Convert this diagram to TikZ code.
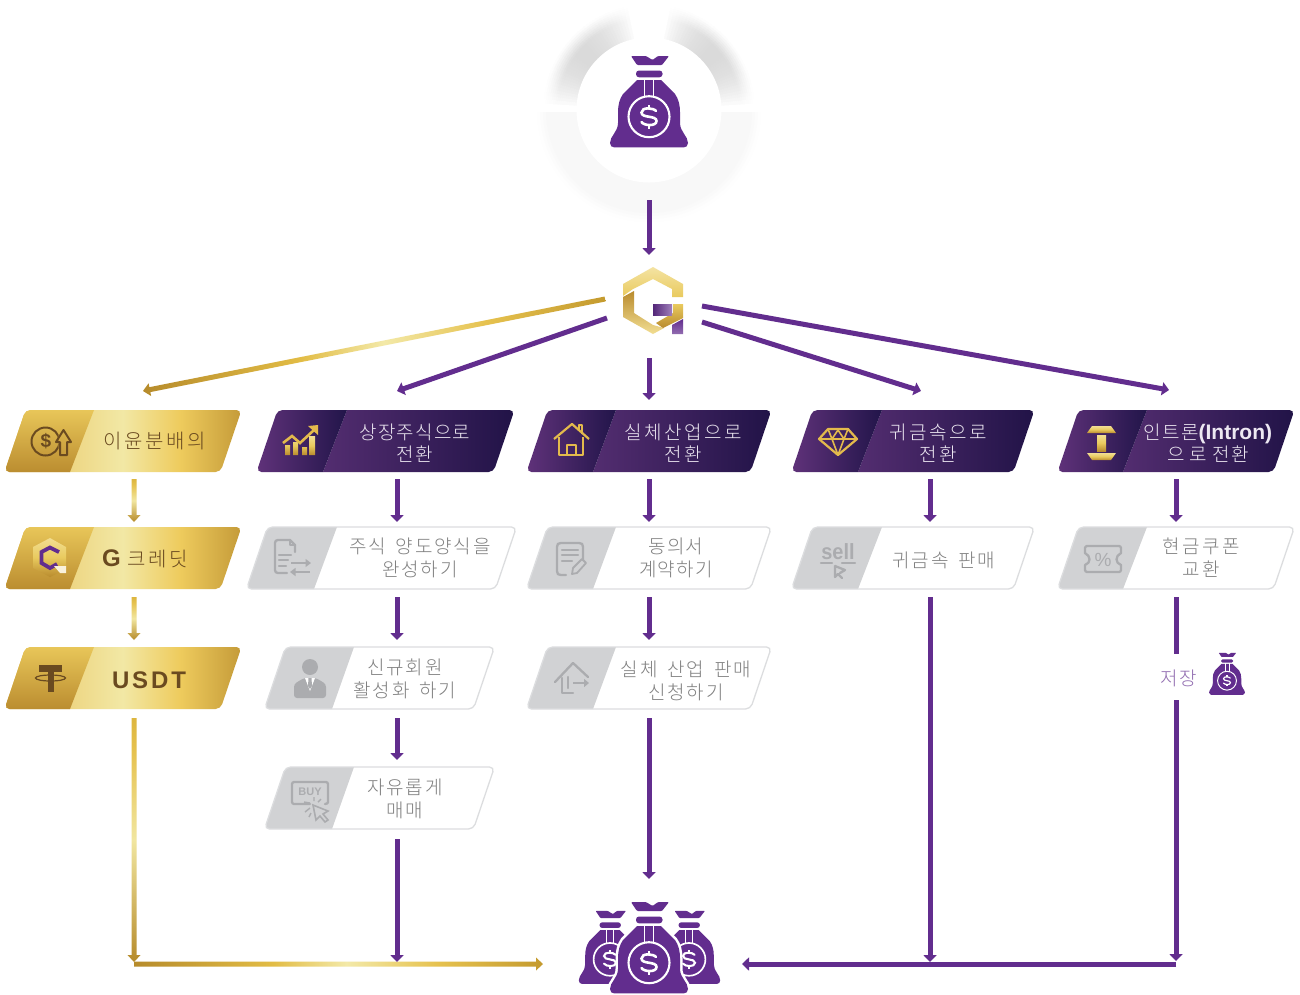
\documentclass[tikz,border=0pt]{standalone}
\usepackage{fontspec}
\usetikzlibrary{arrows.meta,calc}
\newfontfamily\krn{Noto Sans CJK KR Light}[LetterSpace=6]
\newfontfamily\krg{Noto Sans CJK KR Light}[LetterSpace=10,WordSpace=1.6]
\newfontfamily\krw{Noto Sans CJK KR Light}[LetterSpace=13]
\newfontfamily\lat{Liberation Sans}
\newfontfamily\latw{Liberation Sans}[LetterSpace=12]
\definecolor{bagc}{HTML}{622D8E}
\definecolor{flowc}{HTML}{622D8E}
\definecolor{greyic}{HTML}{ABACAF}
\definecolor{greytab}{HTML}{D1D2D4}
\definecolor{greyline}{HTML}{DCDDDF}
\definecolor{greytx}{HTML}{7F7F7F}
\definecolor{brown}{HTML}{6A4A20}
\definecolor{goldic}{HTML}{E3BA4C}
\definecolor{lilac}{HTML}{EDE8F2}
\definecolor{decogray}{HTML}{DADADA}
\definecolor{sA}{HTML}{DDB548}
\definecolor{sB}{HTML}{EED887}
\definecolor{sC}{HTML}{F2E8A5}
\definecolor{sD}{HTML}{EECB5D}
\definecolor{sE}{HTML}{C49A38}
\definecolor{pA}{HTML}{532D70}
\definecolor{pB}{HTML}{211347}
\definecolor{pC}{HTML}{60327A}
\definecolor{pD}{HTML}{22154A}
\definecolor{hA}{HTML}{B68B2B}
\definecolor{hB}{HTML}{E2BC45}
\definecolor{hC}{HTML}{F3E9A8}
\definecolor{hD}{HTML}{E6C24F}
\definecolor{hE}{HTML}{C49A2E}
\definecolor{vC}{HTML}{F1E6A0}
\definecolor{vE}{HTML}{DDB63F}
\definecolor{iA}{HTML}{B98B2E}
\definecolor{iB}{HTML}{E9CA5E}
\definecolor{iC}{HTML}{F2DE92}
\definecolor{tA}{HTML}{BB8D30}
\definecolor{tB}{HTML}{E8C659}
\pgfdeclarehorizontalshading{goldbar}{100bp}{color(0bp)=(sA);color(25bp)=(sA);color(40bp)=(sB);color(50bp)=(sC);color(62bp)=(sD);color(75bp)=(sE);color(100bp)=(sE)}
\pgfdeclarehorizontalshading{purplebar}{100bp}{color(0bp)=(pA);color(25bp)=(pA);color(75bp)=(pB);color(100bp)=(pB)}
\pgfdeclarehorizontalshading{purpletab}{100bp}{color(0bp)=(pC);color(25bp)=(pC);color(75bp)=(pD);color(100bp)=(pD)}
\pgfdeclarehorizontalshading{goldh}{100bp}{color(0bp)=(hA);color(25bp)=(hA);color(42bp)=(hB);color(51bp)=(hC);color(62bp)=(hD);color(75bp)=(hE);color(100bp)=(hE)}
\pgfdeclareverticalshading{goldv}{100bp}{color(0bp)=(hA);color(25bp)=(hA);color(50bp)=(vC);color(68bp)=(hD);color(75bp)=(vE);color(100bp)=(vE)}
\pgfdeclareverticalshading{goldicon}{100bp}{color(0bp)=(iA);color(25bp)=(iA);color(50bp)=(iB);color(75bp)=(iC);color(100bp)=(iC)}
\pgfdeclareverticalshading{goldtab}{100bp}{color(0bp)=(tA);color(25bp)=(tA);color(75bp)=(tB);color(100bp)=(tB)}
\tikzset{
  flow/.style={draw=flowc,line width=5pt,-{Triangle[width=13pt,length=7pt]}},
  flowplain/.style={draw=flowc,line width=5pt},
  lbg/.style={inner sep=0pt,align=center,text=brown,font=\krw\fontsize{20}{23}\selectfont},
  lbp/.style={inner sep=0pt,align=center,text=lilac,font=\krn\fontsize{19}{22.5}\selectfont},
  lbw/.style={inner sep=0pt,align=center,text=greytx,font=\krg\fontsize{19}{23}\selectfont},
  lbn/.style={inner sep=0pt,align=center,text=greytx,font=\krn\fontsize{19}{23}\selectfont},
  icg/.style={draw=greyic,line width=2.3pt,line join=round,line cap=round},
  icd/.style={draw=goldic,line width=2.2pt,line join=round},
  icb/.style={draw=brown,line width=2pt,line join=round}
}
% name, kind (body/tab painter), xl, xr, split top, split bottom, y top, connector x
\newcommand{\flowbox}[8]{%
  \coordinate (#1n) at (#8,#7);
  \coordinate (#1s) at (#8,{#7+62});
  \begin{scope}
    \clip[rounded corners=5pt] ({#3+19.5},#7) -- ({#4+1.5},#7) -- ({#4-19.5},{#7+62}) -- ({#3-1.5},{#7+62}) -- cycle;
    \csname paint#2\endcsname{#3-2}{#4+2}{#5}{#6}{#7}
  \end{scope}
  \csname edge#2\endcsname{#3}{#4}{#7}}
\newcommand{\paintgold}[5]{%
  \shade[shading=goldbar] ({#1},#5) rectangle ({#2},{#5+62});
  \shade[shading=goldtab] ({#1},{#5+62}) -- (#4,{#5+62}) -- (#3,#5) -- ({#1},#5) -- cycle;}
\newcommand{\edgegold}[3]{}
\newcommand{\paintpurple}[5]{%
  \shade[shading=purplebar] (#4,{#5+62}) -- ({#2},{#5+62}) -- ({#2},#5) -- (#3,#5) -- cycle;
  \shade[shading=purpletab] ({#1},{#5+62}) -- (#4,{#5+62}) -- (#3,#5) -- ({#1},#5) -- cycle;}
\newcommand{\edgepurple}[3]{}
\newcommand{\paintgrey}[5]{%
  \fill[white] ({#1},#5) rectangle ({#2},{#5+62});
  \fill[greytab] ({#1},{#5+62}) -- (#4,{#5+62}) -- (#3,#5) -- ({#1},#5) -- cycle;}
\newcommand{\edgegrey}[3]{%
  \draw[greyline,line width=1.3pt,rounded corners=5pt] ({#1+19.5},#3) -- ({#2+1.5},#3) -- ({#2-19.5},{#3+62}) -- ({#1-1.5},{#3+62}) -- cycle;}
% from, to, gap at start, gap at end, shading
\newcommand{\goldflow}[5]{%
  \coordinate (gfa) at ($(#1)!#3pt!(#2)$);
  \coordinate (gfb) at ($(#2)!#4pt!(#1)$);
  \coordinate (gfc) at ($(gfb)!7pt!(gfa)$);
  \shade[shading=#5]
    ($(gfa)!2.5pt!90:(gfb)$) -- ($(gfc)!2.5pt!-90:(gfa)$) -- ($(gfc)!6.5pt!-90:(gfa)$) -- (gfb)
    -- ($(gfc)!6.5pt!90:(gfa)$) -- ($(gfc)!2.5pt!90:(gfa)$) -- ($(gfa)!2.5pt!-90:(gfb)$) -- cycle;}
\newcommand{\bagbody}[1]{(-12,-20) -- (-26,-6) .. controls (-29.5,-1) and (-31,5) .. (-31,12) -- (-31,23) .. controls (-31,32) and (-39,36) .. (-39,43) .. controls (-39,46) and (-37,47.3) .. (-35,47.3) -- (35,47.3) .. controls (37,47.3) and (39,46) .. (39,43) .. controls (39,36) and (31,32) .. (31,23) -- (31,12) .. controls (31,5) and (29.5,-1) .. (26,-6) -- (12,-20) -- cycle}
\newcommand{\moneybag}[3]{%
  \begin{scope}[shift={(#1,#2)},x=#3pt,y=-#3pt]
    \draw[white,line width=#3*5pt,line join=round] \bagbody{};
    \fill[bagc] \bagbody{};
    \fill[bagc,rounded corners=#3*1pt] (-18,-44) -- (-3,-44) -- (3.5,-40) -- (9,-44) -- (20,-44) -- (13,-35) -- (-12,-35) -- cycle;
    \fill[bagc,rounded corners=#3*3pt] (-13,-29.5) rectangle (13.5,-22.7);
    \draw[white,line width=#3*1.9pt] (-4.5,-21) -- (-4.5,-3) (4.5,-21) -- (4.5,-3);
    \draw[white,line width=#3*2.1pt] (0,16.7) circle[radius=20.5];
    \draw[white,line width=#3*2.6pt,line cap=round] (7,11) .. controls (5,8) and (-7.5,6.5) .. (-7.5,12.5) .. controls (-7.5,18.5) and (7.5,15) .. (7.5,21) .. controls (7.5,26.5) and (-5,26) .. (-7.5,22);
    \draw[white,line width=#3*2.4pt] (0,5) -- (0,8.5) (0,25) -- (0,28.5);
  \end{scope}}
\begin{document}
\begin{tikzpicture}[x=1pt,y=-1pt,line cap=butt]
\useasboundingbox (0,0) rectangle (1300,994);
\fill[white] (0,0) rectangle (1300,994);
% ---- halo round the source bag
\begin{scope}
  \clip (530,112) rectangle (770,225);
  \foreach \r in {110,107,...,71}{
    \pgfmathsetmacro\v{\r>100?max(0,(111-\r)*2):20}
    \draw[decogray!\v!white,line width=4pt] (649,110) circle[radius=\r];
  }
\end{scope}
\foreach \r in {108,106,...,72}{
  \foreach \a in {102,104,...,174}{
    \pgfmathsetmacro\v{100*pow(sin(180*(\a-100)/76),0.8)*max(0,min(1,(105-\r)/14))}
    \draw[decogray!\v!white,line width=3pt]
      ({649+\r*cos(\a)},{110-\r*sin(\a)}) -- ({649+\r*cos(\a+2.4)},{110-\r*sin(\a+2.4)});
    \draw[decogray!\v!white,line width=3pt]
      ({649-\r*cos(\a)},{110-\r*sin(\a)}) -- ({649-\r*cos(\a+2.4)},{110-\r*sin(\a+2.4)});
  }
}
\fill[white] (649,110) circle[radius=72.5];
\moneybag{649}{100}{1}
\coordinate (srcS) at (649,200);
% ---- logo
\node[minimum size=60pt,inner sep=0pt] (logo) at (653,301) {};
\shade[top color=iC!85!white,bottom color=iB] (623,284) -- (653,267) -- (683,284) -- (683,297) -- (672,297) -- (672,289) -- (653,279) -- (633,289) -- (623,296) -- cycle;
\shade[top color=iA,bottom color=iC] (623,297) -- (634,291) -- (634,313) -- (653,325) -- (664,328) -- (653,334) -- (623,317) -- cycle;
\shade[top color=iB,bottom color=iA] (673,304) -- (683,304) -- (683,318) -- (663,328) -- (656,323) -- (673,313) -- cycle;
\shade[left color=bagc!85!black,right color=bagc!60!white] (653,304) rectangle (672,315);
\shade[top color=bagc,bottom color=bagc!70!white] (672,325) -- (683,319) -- (683,334) -- (672,334) -- cycle;
\coordinate (logoA) at (605,299);
\coordinate (logoB) at (607,318);
\coordinate (logoC) at (649,358);
\coordinate (logoD) at (702,322);
\coordinate (logoE) at (702,306);
\coordinate (logoN) at (649,255);
\coordinate (inA) at (143,391);
\coordinate (inB) at (397,391);
\coordinate (inC) at (649,400);
\coordinate (inD) at (921,391);
\coordinate (inE) at (1169,390);
% ---- boxes
\flowbox{a1}{gold}{6}{240}{94}{70}{410}{134}
\flowbox{a2}{gold}{6}{240}{94}{70}{527}{134}
\flowbox{a3}{gold}{6}{240}{94}{70}{647}{134}
\flowbox{b1}{purple}{258}{513}{347}{323}{410}{397}
\flowbox{b2}{grey}{248}{515}{337}{314}{527}{397}
\flowbox{b3}{grey}{266}{493}{354}{332}{647}{397}
\flowbox{b4}{grey}{266}{493}{354}{332}{767}{397}
\flowbox{c1}{purple}{528}{770}{616}{593}{410}{649}
\flowbox{c2}{grey}{528}{770}{616}{593}{527}{649}
\flowbox{c3}{grey}{528}{770}{616}{593}{647}{649}
\flowbox{d1}{purple}{793}{1033}{882}{858}{410}{930}
\flowbox{d2}{grey}{793}{1033}{882}{858}{527}{930}
\flowbox{e1}{purple}{1059}{1293}{1147}{1123}{410}{1176}
\flowbox{e2}{grey}{1059}{1293}{1147}{1123}{527}{1176}
% ---- labels
\node[lbg] (ta1) at (155,441) {이윤분배의};
\node[lbg,anchor=west] (ta2) at (102,559) {{\lat\bfseries\fontsize{24}{24}\selectfont G} 크레딧};
\node[lbg,font=\latw\bfseries\fontsize{24}{24}\selectfont] (ta3) at (149,680) {USDT};
\node[lbp] (tb1) at (415,443) {상장주식으로\\전환};
\node[lbw] (tb2) at (420,558) {주식 양도양식을\\완성하기};
\node[lbw] (tb3) at (405,679) {신규회원\\활성화 하기};
\node[lbw] (tb4) at (405,799) {자유롭게\\매매};
\node[lbp,font=\krw\fontsize{19}{22.5}\selectfont] (tc1) at (683,443) {실체산업으로\\전환};
\node[lbn] (tc2) at (676,558) {동의서\\계약하기};
\node[lbw] (tc3) at (686,681) {실체 산업 판매\\신청하기};
\node[lbp,font=\krw\fontsize{19}{22.5}\selectfont] (td1) at (938,443) {귀금속으로\\전환};
\node[lbw] (td2) at (944,560) {귀금속 판매};
\node[lbp] (te1) at (1208,443) {인트론{\lat\fontsize{21}{21}\selectfont\bfseries (Intron)}\\으 로 전환};
\node[lbw,font=\krw\fontsize{19}{23}\selectfont] (te2) at (1201,558) {현금쿠폰\\교환};
\node[lbn,text=bagc!70!white] (te3) at (1179,678) {저장};
% ---- icon a1: coin and arrow
\begin{scope}
  \clip (20,420) rectangle (58.5,462);
  \draw[icb] (45.5,441.5) circle[radius=14];
\end{scope}
\node[inner sep=0pt,text=brown,font=\lat\bfseries\fontsize{19}{19}\selectfont] (ia1) at (46,441) {\$};
\draw[icb,fill=none] (60,455) -- (60,442) -- (56,442) -- (63.5,430) -- (71,442) -- (67,442) -- (67,455) -- cycle;
% ---- icon a2: small hexagon
\shade[shading=goldicon] (50,538) -- (66,547) -- (66,569) -- (50,577) -- (33,568) -- (33,547) -- cycle;
\draw[bagc,line width=3.8pt] (59,552) -- (50,547.5) -- (41.5,552) -- (41.5,563) -- (50,568) -- (57,564);
\fill[white!80!goldic] (54,566) -- (66,566) -- (66,573) -- (60,573) -- cycle;
% ---- icon a3: tether
\fill[brown] (39,664.5) rectangle (62,671.5);
\fill[brown] (47.5,671) rectangle (54,692);
\draw[brown,line width=1.2pt] (50.5,678) ellipse[x radius=15,y radius=3];
% ---- icon b1: chart
\shade[shading=goldicon] (285,445) rectangle (290,455) (293,442) rectangle (298,455) (302,447) rectangle (307,455) (309,436) rectangle (315,455);
\draw[goldic,line width=2.6pt] (283,443) -- (292,436) -- (300,443) -- (314,430);
\fill[goldic] (308,426) -- (318,425) -- (318,435) -- cycle;
% ---- icon b2: document with arrows
\draw[icg] (295,552) -- (295,545) -- (290,540) -- (278,540) .. controls (276,540) and (275,541) .. (275,543) -- (275,570) .. controls (275,572) and (276,573) .. (278,573) -- (287,573);
\draw[icg] (290,540) -- (290,545) -- (295,545);
\draw[icg] (279,555) -- (291,555) (279,560) -- (288,560) (279,566) -- (286,566);
\draw[draw=greyic,line width=2.4pt,-{Triangle[width=8pt,length=5.5pt]}] (291,563) -- (311,563);
\draw[draw=greyic,line width=2.4pt,-{Triangle[width=8pt,length=5.5pt]}] (310,572) -- (290,572);
% ---- icon b3: person
\fill[greyic] (310,667) circle[radius=8];
\fill[greyic,rounded corners=3pt] (294,698) -- (294,684) -- (304,678) -- (316,678) -- (326,684) -- (326,698) -- cycle;
\fill[white] (305,678) -- (315,678) -- (310,691) -- cycle;
\fill[greyic] (308.5,678) -- (311.5,678) -- (312,686) -- (310,689) -- (308,686) -- cycle;
% ---- icon b4: buy
\draw[icg] (310,804) -- (294,804) .. controls (293,804) and (292,803) .. (292,802) -- (292,784) .. controls (292,783) and (293,782) .. (294,782) -- (326,782) .. controls (327,782) and (328,783) .. (328,784) -- (328,802) .. controls (328,803) and (327,804) .. (325,804);
\node[inner sep=0pt,text=greyic,font=\lat\bfseries\fontsize{11}{11}\selectfont] (ib4) at (310,792) {BUY};
\draw[greyic,line width=1.6pt] (313,805) -- (328,811) -- (323,814) -- (328,820) -- (325,822) -- (320,816) -- (316,820) -- cycle;
\draw[greyic,line width=1.4pt] (310,808) -- (305,812) (310,803) -- (304,802) (314,801) -- (314,797) (318,802) -- (321,799) (311,813) -- (309,817);
% ---- icon c1: house
\draw[icd] (554,439) -- (572,424) -- (589,439);
\draw[icd] (559,437) -- (559,455) -- (583,455) -- (583,437);
\draw[icd] (567,455) -- (567,445) -- (576,445) -- (576,455);
\draw[icd] (579,431) -- (579,425) -- (582,425) -- (582,434);
% ---- icon c2: pen and paper
\draw[icg] (566,575) -- (561,575) .. controls (558,575) and (557,574) .. (557,571) -- (557,547) .. controls (557,544) and (558,543) .. (561,543) -- (579,543) .. controls (582,543) and (583,544) .. (583,547) -- (583,560);
\draw[icg] (562,550) -- (578,550) (562,555) -- (578,555) (562,561) -- (572,561);
\draw[icg,line width=1.8pt] (572,574) -- (573,568) -- (582,559) -- (586,563) -- (577,573) -- cycle;
% ---- icon c3: house with arrow
\draw[icg] (555,682) -- (573,663) -- (588,677);
\draw[icg] (562,678) -- (562,693) -- (573,693);
\draw[icg] (568,677) -- (568,688);
\draw[draw=greyic,line width=2.2pt,-{Triangle[width=8pt,length=5pt]}] (573,683) -- (589,683);
% ---- icon d1: diamond
\draw[icd] (828,429) -- (848,429) -- (857,439) -- (838,455) -- (819,439) -- cycle;
\draw[icd,line width=1.6pt] (819,439) -- (857,439) (828,429) -- (832,439) -- (838,455) -- (844,439) -- (848,429) (832,439) -- (838,430) -- (844,439);
% ---- icon d2: sell
\node[inner sep=0pt,text=greyic,font=\lat\bfseries\fontsize{20}{20}\selectfont,yscale=1.1] (id2) at (838,552) {sell};
\draw[icg] (821,563) -- (832,563) (842,563) -- (855,563);
\draw[icg] (835,566) -- (835,577) -- (838,574) -- (842,578) (835,566) -- (845,570) -- (840,573);
% ---- icon e1: I-beam
\shade[shading=goldicon] (1087,433) -- (1092,426) -- (1111,426) -- (1116,433) -- cycle;
\shade[shading=goldicon] (1087,453) -- (1116,453) -- (1111,460) -- (1092,460) -- cycle;
\shade[shading=goldicon] (1097,435) rectangle (1106,451);
% ---- icon e2: coupon
\draw[icg] (1087,546) -- (1119,546) .. controls (1120,546) and (1121,547) .. (1121,548) -- (1121,553) .. controls (1115,556) and (1115,563) .. (1121,565) -- (1121,570) .. controls (1121,571) and (1120,572) .. (1119,572) -- (1087,572) .. controls (1086,572) and (1085,571) .. (1085,570) -- (1085,565) .. controls (1091,563) and (1091,556) .. (1085,553) -- (1085,548) .. controls (1085,547) and (1086,546) .. cycle;
\node[inner sep=0pt,text=greyic,font=\lat\fontsize{19}{19}\selectfont] (ie2) at (1103,560) {\%};
% ---- bags
\moneybag{1227}{673}{0.46}
\coordinate (storeN) at (1176,654);
\coordinate (storeS) at (1176,700);
\moneybag{610}{946}{0.8}
\moneybag{689}{946}{0.8}
\moneybag{649}{946}{1}
\coordinate (sinkW) at (543,964);
\coordinate (sinkE) at (742,964);
\coordinate (joinA) at (134,964);
\coordinate (joinB) at (397,962);
\coordinate (joinC) at (649,879);
\coordinate (joinD) at (930,962);
\coordinate (joinE) at (1176,964);
\coordinate (joinEa) at (1176,961);
\coordinate (joinAa) at (134,962);
% ---- connectors
\draw[flow] (srcS) -- (logoN);
\draw[flow] (logoB) -- (inB);
\draw[flow] (logoC) -- (inC);
\draw[flow] (logoD) -- (inD);
\draw[flow] (logoE) -- (inE);
\goldflow{logoA}{inA}{0}{0}{goldh}
\goldflow{a1s}{a2n}{7}{5}{goldv}
\goldflow{a2s}{a3n}{8}{7}{goldv}
\goldflow{a3s}{joinAa}{9}{0}{goldv}
\goldflow{joinA}{sinkW}{0}{0}{goldh}
\draw[flow,shorten <=7pt,shorten >=5pt] (b1s) -- (b2n);
\draw[flow,shorten <=8pt,shorten >=7pt] (b2s) -- (b3n);
\draw[flow,shorten <=9pt,shorten >=7pt] (b3s) -- (b4n);
\draw[flow,shorten <=10pt] (b4s) -- (joinB);
\draw[flow,shorten <=7pt,shorten >=5pt] (c1s) -- (c2n);
\draw[flow,shorten <=8pt,shorten >=7pt] (c2s) -- (c3n);
\draw[flow,shorten <=9pt] (c3s) -- (joinC);
\draw[flow,shorten <=7pt,shorten >=5pt] (d1s) -- (d2n);
\draw[flow,shorten <=8pt] (d2s) -- (joinD);
\draw[flow,shorten <=7pt,shorten >=5pt] (e1s) -- (e2n);
\draw[flowplain,shorten <=8pt] (e2s) -- (storeN);
\draw[flow] (storeS) -- (joinEa);
\draw[flow] (joinE) -- (sinkE);
\end{tikzpicture}
\end{document}
